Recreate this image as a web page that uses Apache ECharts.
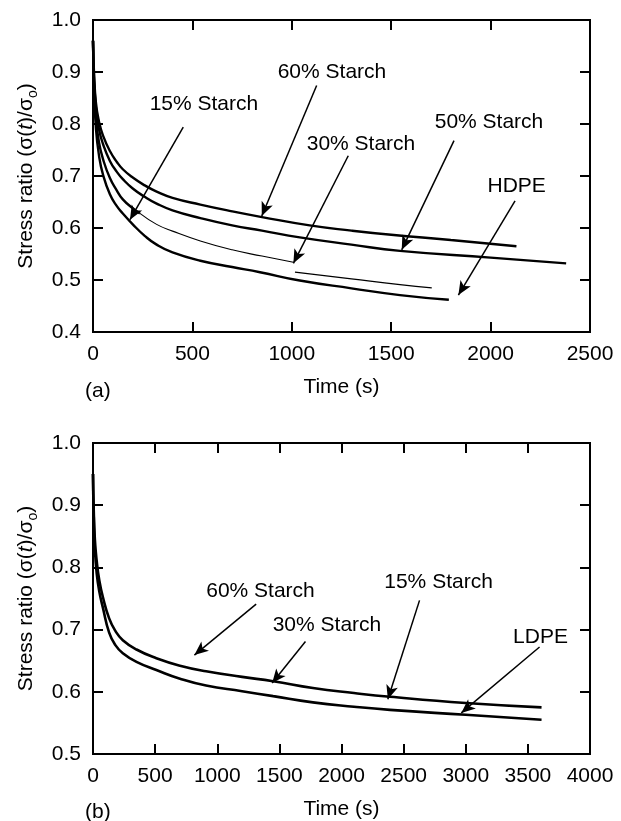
<!DOCTYPE html>
<html>
<head>
<meta charset="utf-8">
<script src="https://cdn.jsdelivr.net/npm/echarts@6/dist/echarts.min.js"></script>
<style>
  html, body { margin: 0; padding: 0; background: #fff; }
  #main { width: 621px; height: 821px; }
</style>
</head>
<body>
<div id="main"></div>
<script>
// ---- (a) HDPE blends ----
var timeA60 = [0, 5, 15, 30, 50, 85, 120, 150, 200, 260, 320, 400, 540, 700, 850, 1090, 1300, 1500, 1800, 2130];
var stressA60 = [0.96, 0.90, 0.84, 0.805, 0.778, 0.748, 0.727, 0.713, 0.697, 0.682, 0.670, 0.658, 0.645, 0.632, 0.621, 0.605, 0.595, 0.587, 0.577, 0.565];

var timeA50 = [0, 5, 15, 30, 50, 85, 120, 150, 200, 260, 320, 400, 540, 700, 850, 1040, 1300, 1544, 2000, 2380];
var stressA50 = [0.96, 0.89, 0.83, 0.79, 0.762, 0.729, 0.708, 0.694, 0.676, 0.660, 0.647, 0.634, 0.619, 0.605, 0.595, 0.582, 0.568, 0.556, 0.543, 0.532];

var timeA15 = [0, 5, 15, 30, 50, 85, 120, 150, 200, 236, 320, 400, 540, 700, 850, 1008];
var stressA15 = [0.96, 0.88, 0.81, 0.765, 0.733, 0.696, 0.672, 0.655, 0.638, 0.628, 0.607, 0.594, 0.575, 0.558, 0.546, 0.534];

var timeA30 = [1016, 1300, 1544, 1704];
var stressA30 = [0.515, 0.502, 0.491, 0.485];

var timeHDPE = [0, 5, 15, 30, 50, 85, 120, 150, 200, 260, 320, 400, 540, 700, 840, 1040, 1300, 1544, 1790];
var stressHDPE = [0.96, 0.87, 0.79, 0.74, 0.703, 0.665, 0.642, 0.628, 0.607, 0.585, 0.568, 0.553, 0.537, 0.525, 0.515, 0.499, 0.484, 0.471, 0.462];

// ---- (b) LDPE blends ----
var timeB = [0, 5, 15, 30, 50, 80, 130, 180, 240, 350, 510, 700, 910, 1200, 1450, 1770, 2100, 2390, 3000, 3610];
var stressBStarch = [0.95, 0.90, 0.845, 0.81, 0.78, 0.752, 0.718, 0.698, 0.683, 0.668, 0.654, 0.642, 0.633, 0.624, 0.617, 0.606, 0.598, 0.592, 0.582, 0.575];
var stressLDPE = [0.95, 0.89, 0.83, 0.79, 0.762, 0.735, 0.695, 0.675, 0.662, 0.648, 0.635, 0.621, 0.610, 0.601, 0.593, 0.583, 0.576, 0.571, 0.563, 0.555];

// annotation labels: [text, labelT, labelV, arrowFromT, arrowFromV, arrowToT, arrowToV]
var notesA = [
  ['60% Starch', 1202, 0.899, 1125, 0.874, 849, 0.623],
  ['15% Starch', 558, 0.838, 454, 0.794, 186, 0.616],
  ['30% Starch', 1348, 0.762, 1284, 0.739, 1008, 0.532],
  ['50% Starch', 1992, 0.803, 1816, 0.768, 1553, 0.558],
  ['HDPE', 2131, 0.680, 2123, 0.652, 1838, 0.471]
];
var notesB = [
  ['60% Starch', 1348, 0.761, 1313, 0.741, 816, 0.659],
  ['30% Starch', 1883, 0.707, 1710, 0.681, 1442, 0.614],
  ['15% Starch', 2781, 0.776, 2628, 0.747, 2373, 0.588],
  ['LDPE', 3602, 0.688, 3594, 0.672, 2964, 0.566]
];

function pairs(t, v) {
  return t.map(function (x, i) { return [x, v[i]]; });
}

var FONT = "'Liberation Sans', Arial, sans-serif";
var black = '#000';
var FS = 21;

function curve(t, v, xi, w) {
  return {
    type: 'line', xAxisIndex: xi, yAxisIndex: xi,
    data: pairs(t, v), showSymbol: false, smooth: 0.5,
    lineStyle: { color: black, width: w }, silent: true
  };
}

function notes(list, xi) {
  return {
    type: 'scatter', xAxisIndex: xi, yAxisIndex: xi, symbolSize: 0, silent: true,
    itemStyle: { opacity: 1 },
    data: list.map(function (n) { return { value: [n[1], n[2]], name: n[0] }; }),
    label: {
      show: true, position: 'inside', formatter: '{b}', opacity: 1,
      color: black, fontSize: FS, fontFamily: FONT
    },
    markLine: {
      silent: true, symbol: ['none', 'arrow'], symbolSize: [9, 14],
      lineStyle: { color: black, width: 1.5, type: 'solid', opacity: 1 },
      label: { show: false },
      data: list.map(function (n) {
        return [{ coord: [n[3], n[4]] }, { coord: [n[5], n[6]] }];
      })
    }
  };
}

function xAxes(gi, max, pos, labels) {
  return {
    type: 'value', gridIndex: gi, min: 0, max: max, interval: 500, position: pos,
    name: labels ? 'Time (s)' : '', nameLocation: 'middle', nameGap: 45,
    nameTextStyle: { color: black, fontSize: FS, fontFamily: FONT },
    axisLine: { show: true, onZero: false, lineStyle: { color: black, width: 2 } },
    axisTick: { show: true, inside: true, length: 10, lineStyle: { color: black, width: 2 } },
    axisLabel: {
      show: labels, color: black, fontSize: FS, fontFamily: FONT, margin: 12,
      formatter: function (v) { return String(v); }
    },
    splitLine: { show: false }
  };
}

function yAxes(gi, min, pos, labels) {
  return {
    type: 'value', gridIndex: gi, min: min, max: 1.0, interval: 0.1, position: pos,
    name: labels ? 'Stress ratio (σ({it|t})/σ{sub|o})' : '',
    nameLocation: 'middle', nameRotate: 90, nameGap: 53,
    nameTextStyle: {
      color: black, fontSize: FS, fontFamily: FONT, lineHeight: 27,
      rich: {
        it: { fontStyle: 'italic', fontSize: FS, fontFamily: FONT, color: black },
        sub: { fontSize: 14, fontFamily: FONT, color: black, verticalAlign: 'bottom', lineHeight: 27 }
      }
    },
    axisLine: { show: true, onZero: false, lineStyle: { color: black, width: 2 } },
    axisTick: { show: true, inside: true, length: 10, lineStyle: { color: black, width: 2 } },
    axisLabel: {
      show: labels, color: black, fontSize: FS, fontFamily: FONT, margin: 12,
      formatter: function (v) { return v.toFixed(1); }
    },
    splitLine: { show: false }
  };
}

var k15 = timeA15.indexOf(236);

var option = {
  animation: false,
  backgroundColor: '#fff',
  textStyle: { fontFamily: FONT },
  title: [
    { text: '(a)', left: 80, top: 376, textStyle: { color: black, fontSize: FS, fontWeight: 'normal', fontFamily: FONT } },
    { text: '(b)', left: 80, top: 797, textStyle: { color: black, fontSize: FS, fontWeight: 'normal', fontFamily: FONT } }
  ],
  grid: [
    { left: 93, right: 31, top: 20, height: 312, show: true, borderColor: black, borderWidth: 2, backgroundColor: 'transparent' },
    { left: 93, right: 31, top: 443, height: 313, show: true, borderColor: black, borderWidth: 2, backgroundColor: 'transparent' }
  ],
  xAxis: [
    xAxes(0, 2500, 'bottom', true),
    xAxes(0, 2500, 'top', false),
    xAxes(1, 4000, 'bottom', true),
    xAxes(1, 4000, 'top', false)
  ],
  yAxis: [
    yAxes(0, 0.4, 'left', true),
    yAxes(0, 0.4, 'right', false),
    yAxes(1, 0.5, 'left', true),
    yAxes(1, 0.5, 'right', false)
  ],
  series: [
    curve(timeA60, stressA60, 0, 2.4),
    curve(timeA50, stressA50, 0, 2.4),
    curve(timeA15.slice(0, k15 + 1), stressA15.slice(0, k15 + 1), 0, 2.4),
    curve(timeA15.slice(k15), stressA15.slice(k15), 0, 1.1),
    curve(timeA30, stressA30, 0, 1.3),
    curve(timeHDPE, stressHDPE, 0, 2.4),
    notes(notesA, 0),
    curve(timeB, stressBStarch, 2, 2.6),
    curve(timeB, stressLDPE, 2, 2.6),
    notes(notesB, 2)
  ]
};

var chart = echarts.init(document.getElementById('main'), null, { renderer: 'canvas' });
chart.setOption(option);
</script>
</body>
</html>
